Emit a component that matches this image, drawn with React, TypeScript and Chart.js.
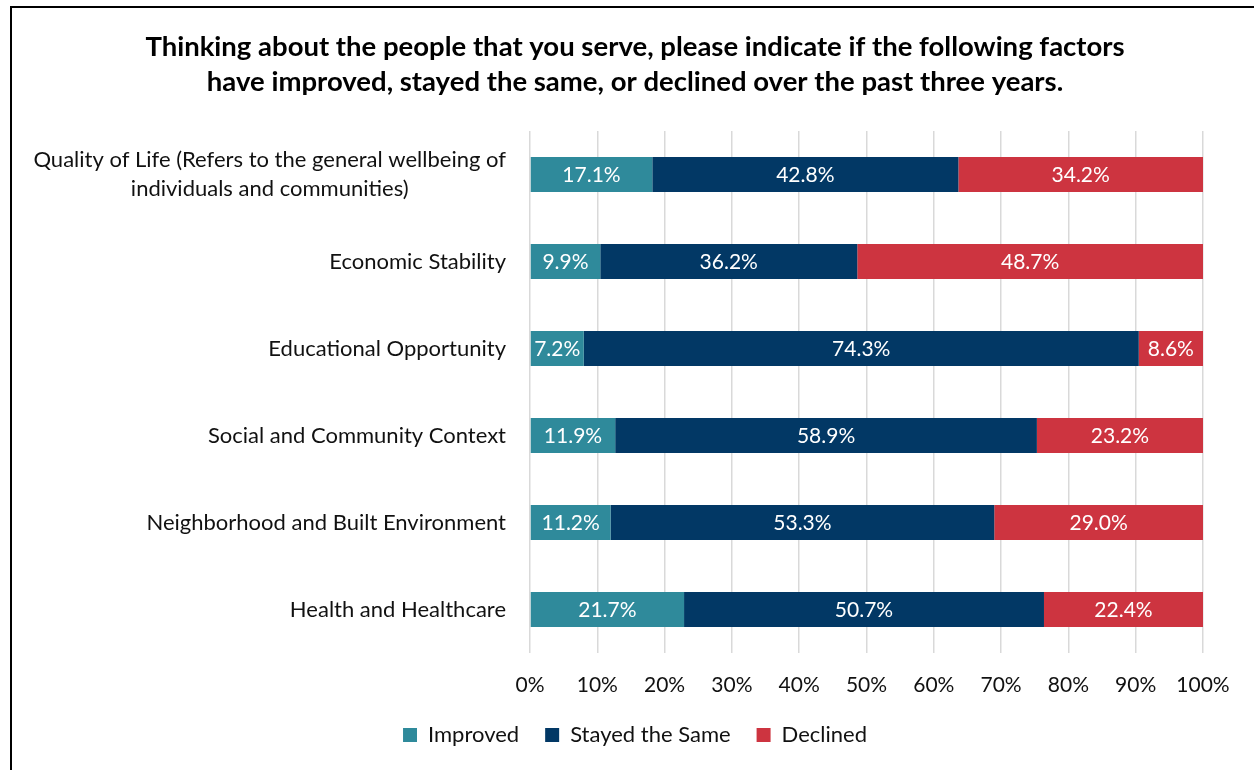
import React, { useEffect, useRef } from "react";
import { Chart, registerables } from "chart.js";

Chart.register(...registerables);

const titleLines = [
  "Thinking about the people that you serve, please indicate if the following factors",
  "have improved, stayed the same, or declined over the past three years.",
];
const categories: string[][] = [
  ["Quality of Life (Refers to the general wellbeing of", "individuals and communities)"],
  ["Economic Stability"],
  ["Educational Opportunity"],
  ["Social and Community Context"],
  ["Neighborhood and Built Environment"],
  ["Health and Healthcare"],
];
const seriesNames = ["Improved", "Stayed the Same", "Declined"];
const improved = [17.1, 9.9, 7.2, 11.9, 11.2, 21.7];
const stayedSame = [42.8, 36.2, 74.3, 58.9, 53.3, 50.7];
const declined = [34.2, 48.7, 8.6, 23.2, 29.0, 22.4];
const seriesColors = ["#2F8A9B", "#023865", "#CD3440"];

const FONT = "Lato, 'Open Sans', sans-serif";

export default function App() {
  const ref = useRef<HTMLCanvasElement | null>(null);

  useEffect(() => {
    const raw = [improved, stayedSame, declined];
    const totals = improved.map((_, i) => raw.reduce((s, arr) => s + arr[i], 0));

    const yLabelPlugin = {
      id: "yLabels",
      afterDraw(chart: any) {
        const ctx = chart.ctx;
        const y = chart.scales.y;
        ctx.save();
        ctx.font = `22px ${FONT}`;
        ctx.fillStyle = "#111";
        ctx.textAlign = "center";
        ctx.textBaseline = "middle";
        const right = chart.chartArea.left - 24;
        const lh = 29;
        categories.forEach((lines, i) => {
          const cy = y.getPixelForValue(i);
          const maxW = Math.max(...lines.map((l) => ctx.measureText(l).width));
          const cx = right - maxW / 2;
          const start = cy - ((lines.length - 1) * lh) / 2;
          lines.forEach((l, k) => ctx.fillText(l, cx, start + k * lh));
        });
        ctx.restore();
      },
    };

    const valueLabelPlugin = {
      id: "valueLabels",
      afterDatasetsDraw(chart: any) {
        const ctx = chart.ctx;
        ctx.save();
        ctx.font = `21px ${FONT}`;
        ctx.fillStyle = "#fff";
        ctx.textAlign = "center";
        ctx.textBaseline = "middle";
        chart.data.datasets.forEach((ds: any, di: number) => {
          const meta = chart.getDatasetMeta(di);
          meta.data.forEach((el: any, i: number) => {
            const v = raw[di][i];
            ctx.fillText(v.toFixed(1) + "%", (el.x + el.base) / 2, el.y + 1);
          });
        });
        ctx.restore();
      },
    };

    const chart = new Chart(ref.current as HTMLCanvasElement, {
      type: "bar",
      data: {
        labels: categories.map((c) => c.join(" ")),
        datasets: seriesNames.map((name, di) => ({
          label: name,
          data: raw[di].map((v, i) => (v / totals[i]) * 100),
          backgroundColor: seriesColors[di],
          borderWidth: 0,
          barPercentage: 0.4,
          categoryPercentage: 1,
        })),
      },
      options: {
        indexAxis: "y",
        animation: false,
        responsive: false,
        maintainAspectRatio: false,
        layout: { padding: { left: 16, right: 0, top: 6, bottom: 14 } },
        scales: {
          x: {
            stacked: true,
            min: 0,
            max: 100,
            ticks: {
              stepSize: 10,
              padding: 20,
              color: "#111",
              font: { family: FONT, size: 21 },
              callback: (v: any) => v + "%",
            },
            grid: { color: "#d9d9d9", lineWidth: 1.5, drawTicks: false },
            border: { display: false },
            afterFit: (s: any) => {
              s.height = 45;
            },
          },
          y: {
            stacked: true,
            ticks: { display: false },
            grid: { display: false },
            border: { display: false },
            afterFit: (s: any) => {
              s.width = 514;
            },
          },
          yRight: {
            position: "right",
            type: "linear",
            display: true,
            ticks: { display: false },
            grid: { display: false },
            border: { display: false },
            afterFit: (s: any) => {
              s.width = 51;
            },
          },
        },
        plugins: {
          title: {
            display: true,
            text: titleLines,
            color: "#000",
            font: { family: FONT, size: 27.5, weight: "bold", lineHeight: "35px" },
            padding: { top: 24, bottom: 31 },
          },
          legend: {
            position: "bottom",
            labels: {
              boxWidth: 14,
              boxHeight: 14,
              padding: 26,
              color: "#111",
              font: { family: FONT, size: 22 },
            },
          },
          tooltip: { enabled: false },
        },
      } as any,
      plugins: [yLabelPlugin, valueLabelPlugin],
    });
    return () => chart.destroy();
  }, []);

  return (
    <div style={{ position: "fixed", left: 0, top: 0, width: 1254, height: 770, overflow: "hidden", background: "#fff" }}>
      <canvas ref={ref} width={1254} height={770} style={{ position: "absolute", left: 0, top: 0 }} />
      <div
        style={{
          position: "absolute",
          left: 10,
          top: 6,
          width: 1244,
          height: 764,
          borderLeft: "2px solid #000",
          borderTop: "2px solid #000",
          boxSizing: "border-box",
          pointerEvents: "none",
        }}
      />
    </div>
  );
}
